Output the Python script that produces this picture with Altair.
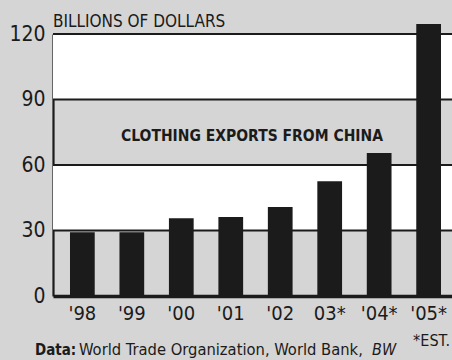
import altair as alt
import pandas as pd

years = ["'98", "'99", "'00", "'01", "'02", "03*", "'04*", "'05*"]
values = [29.2, 29.2, 35.6, 36.2, 40.8, 52.6, 65.5, 124.6]

band_lo = [30, 90]
band_hi = [60, 120]
grid_vals = [30, 60, 90, 120]

FONT = "DejaVu Sans Condensed, sans-serif"
GRAY = "#d5d5d5"
INK = "#1b1b1b"
W, H = 399, 262

df = pd.DataFrame({"year": years, "value": values})
bands = pd.DataFrame({"lo": band_lo, "hi": band_hi})
grid = pd.DataFrame({"g": grid_vals})

yscale = alt.Scale(domain=[0, 120], nice=False, zero=True)

band_layer = alt.Chart(bands).mark_rect(color="white").encode(
    x=alt.value(0), x2=alt.value(W),
    y=alt.Y("lo:Q", scale=yscale), y2="hi:Q",
)

grid_layer = alt.Chart(grid).mark_rule(color=INK, strokeWidth=2.2).encode(
    x=alt.value(0), x2=alt.value(W),
    y=alt.Y("g:Q", scale=yscale),
)

bars = alt.Chart(df).mark_bar(color=INK).encode(
    x=alt.X("year:N", sort=years,
            scale=alt.Scale(paddingInner=0.5, paddingOuter=0.283, align=0.607),
            axis=alt.Axis(title=None, labelAngle=0, labelFont=FONT, labelFontSize=20,
                          labelColor=INK, labelPadding=7, ticks=False,
                          domainColor=INK, domainWidth=3.5)),
    y=alt.Y("value:Q", scale=yscale,
            axis=alt.Axis(title=None, values=[0, 30, 60, 90, 120], grid=False,
                          labelFont=FONT, labelFontSize=21, labelColor=INK,
                          labelPadding=8, ticks=False, domainColor=INK,
                          domainWidth=2.2)),
)

def txt(s, x, y, size, weight="normal", style="normal", align="left", baseline="alphabetic"):
    return alt.Chart(pd.DataFrame({"t": [s]})).mark_text(
        font=FONT, fontSize=size, fontWeight=weight, fontStyle=style,
        align=align, baseline=baseline, color=INK,
    ).encode(text="t:N", x=alt.value(x), y=alt.value(y))

t_units = txt("BILLIONS OF DOLLARS", 0, -7, 17)
t_title = txt("CLOTHING EXPORTS FROM CHINA", 199, 107, 15.5, weight="bold", align="center")
t_est = txt("*EST.", 397, 312, 16, align="right")
t_data1 = txt("Data:", -18, 321, 15, weight="bold")
t_data2 = txt("World Trade Organization, World Bank,", 26, 321, 16.4)
t_data3 = txt("BW", 319, 321, 16, style="italic")

chart = alt.layer(
    band_layer, grid_layer, bars,
    t_units, t_title, t_est, t_data1, t_data2, t_data3,
).properties(
    width=W, height=H,
    padding={"left": 53, "top": 34, "right": 0, "bottom": 64},
    autosize=alt.AutoSizeParams(type="none"),
    background=GRAY,
).configure_view(stroke=None, fill=GRAY)

chart.save("out.html", embed_options={"renderer": "svg", "actions": False})
